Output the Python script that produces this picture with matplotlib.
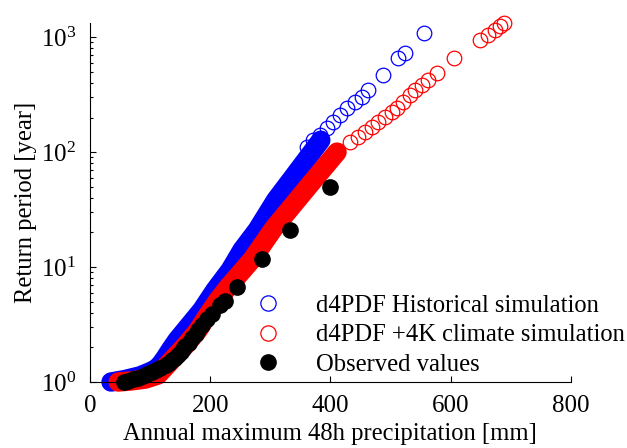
"""Return period of annual maximum 48h precipitation: d4PDF vs observed."""
import matplotlib
matplotlib.use("Agg")
import matplotlib.pyplot as plt
from matplotlib.lines import Line2D

plt.rcParams["font.family"] = ["Liberation Serif", "DejaVu Serif"]
plt.rcParams["mathtext.fontset"] = "stix"

# d4PDF historical: dense part of the curve (mm, return period)
hist_dense_mm = [35, 58, 83, 97, 110, 118, 125, 135, 145, 186, 208, 233, 253, 278, 309, 334,
                 359, 384]
hist_dense_T = [1.00, 1.05, 1.13, 1.21, 1.30, 1.44, 1.62, 1.95, 2.32, 4.23, 6.3, 9.4, 14.1,
                21.0, 38.3, 57, 85, 127]
# d4PDF historical: isolated upper tail points
hist_tail_mm = [361, 371, 383, 394, 404, 416, 428, 441, 453, 463, 488, 512, 524, 556]
hist_tail_T = [110, 127, 141, 162, 182, 210, 241, 272, 301, 346, 467, 657, 726, 1084]

# d4PDF +4K: dense part
warm_dense_mm = [47, 67, 92, 113, 133, 158, 180, 196, 213, 230, 270, 306, 364, 411]
warm_dense_T = [1.00, 1.02, 1.06, 1.15, 1.49, 2.06, 2.83, 3.83, 5.16, 6.7, 11.7, 21.8, 50.8, 100]
# d4PDF +4K: upper tail
warm_tail_mm = [433, 446, 458, 469, 479, 491, 502, 511, 521, 532, 541, 552, 562, 577,
                606, 649, 662, 674, 682, 689]
warm_tail_T = [122, 135, 149, 165, 182, 201, 223, 241, 272, 313, 346, 383, 423, 486,
               657, 942, 1040, 1150, 1247, 1320]

# observed annual maxima
obs_mm = [399, 332, 286, 245, 225, 216, 203, 194, 186, 180, 176, 170, 164, 158, 155,
          151, 146, 141, 136, 131, 126, 117, 110, 103, 95, 88, 80, 72, 64, 56]
obs_T = [50, 21, 11.7, 6.7, 5.1, 4.7, 3.9, 3.5, 3.15, 2.85, 2.6, 2.4, 2.2, 2.05, 1.94,
         1.82, 1.72, 1.62, 1.54, 1.47, 1.40, 1.33, 1.27, 1.22, 1.17, 1.13, 1.09, 1.06,
         1.03, 1.01]

labels = ["d4PDF Historical simulation", "d4PDF +4K climate simulation", "Observed values"]

FS = 17.7


def main():
    fig = plt.figure(figsize=(6.27, 4.48), dpi=100)
    ax = fig.add_axes([0.1435, 0.1473, 0.767, 0.801])

    ring = dict(ls="none", marker="o", ms=10.5, mew=0.9, mfc="none", clip_on=False)
    band = dict(lw=14, solid_capstyle="round", solid_joinstyle="round", clip_on=False)

    # overlapping open circles in the bulk of each sample look like a solid band
    ax.plot(hist_dense_mm, hist_dense_T, color="b", **band)
    ax.plot(hist_tail_mm, hist_tail_T, mec="b", **ring)
    ax.plot(warm_dense_mm, warm_dense_T, color="r", **band)
    ax.plot(warm_tail_mm, warm_tail_T, mec="r", **ring)
    ax.plot(obs_mm, obs_T, ls="none", marker="o", ms=11, mfc="k", mec="k", clip_on=False)

    ax.set_yscale("log")
    ax.set_xlim(0, 800)
    ax.set_ylim(1, 1324)
    ax.set_xticks([0, 200, 400, 600, 800])
    ax.spines[["top", "right"]].set_visible(False)
    for s in ax.spines.values():
        s.set_linewidth(0.8)
    ax.tick_params(which="both", direction="in", labelsize=18, width=0.8)
    ax.tick_params(which="major", length=4.5)
    ax.tick_params(which="minor", length=2.5)
    ax.tick_params(axis="x", which="minor", bottom=False)
    ax.tick_params(axis="x", pad=9)
    ax.tick_params(axis="y", pad=10)

    ax.set_xlabel("Annual maximum 48h precipitation [mm]", fontsize=FS, labelpad=5)
    ax.set_ylabel("Return period [year]", fontsize=FS, labelpad=2.5)

    handles = [
        Line2D([], [], ls="none", marker="o", ms=11, mfc="none", mec="b", mew=0.9),
        Line2D([], [], ls="none", marker="o", ms=11, mfc="none", mec="r", mew=0.9),
        Line2D([], [], ls="none", marker="o", ms=11, mfc="k", mec="k"),
    ]
    fig.legend(handles, labels, loc="upper left", bbox_to_anchor=(0.408, 0.343),
               bbox_transform=fig.transFigure, frameon=False, fontsize=FS,
               handlelength=1.0, handletextpad=1.45, labelspacing=0.30,
               borderpad=0, borderaxespad=0)

    fig.savefig("out.png", dpi=100)
    plt.close(fig)


if __name__ == "__main__":
    main()
